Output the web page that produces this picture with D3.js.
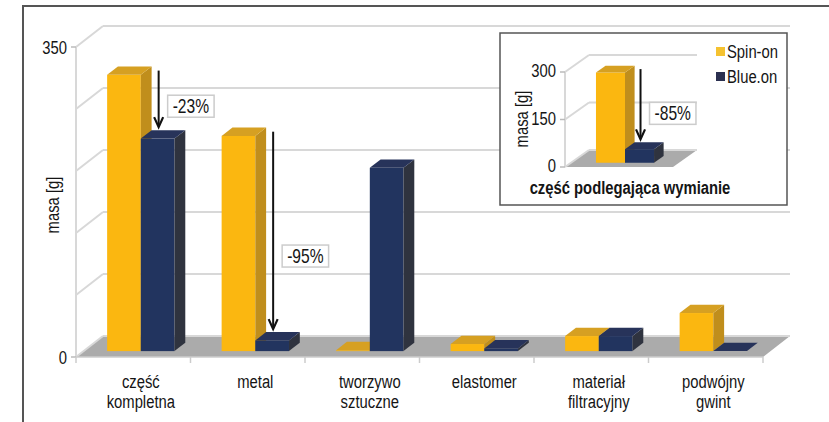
<!DOCTYPE html>
<html>
<head>
<meta charset="utf-8">
<script src="https://cdn.jsdelivr.net/npm/d3@7"></script>
<style>
  body { margin: 0; background: #fff; }
  svg text { font-family: "Liberation Sans", Arial, sans-serif; fill: #151515; }
</style>
</head>
<body>
<div class="areaGrafica"></div>
<script>
// dane wykresu
const kategorie = [["część", "kompletna"], ["metal"], ["tworzywo", "sztuczne"], ["elastomer"], ["materiał", "filtracyjny"], ["podwójny", "gwint"]];
const serie = ["Spin-on", "Blue.on"];
const spinOn = [312, 243, 1, 8, 17, 43];
const blueOn = [240, 12, 207, 3, 17, 0];
const etykietyY = [0, 350];
const siatkaY = [0, 70, 140, 210, 280, 350];
const zmiany = [{ i: 0, tekst: "-23%" }, { i: 1, tekst: "-95%" }];

const wstawkaKategoria = "część podlegająca wymianie";
const wstawkaSpinOn = [285];
const wstawkaBlueOn = [43];
const wstawkaEtykietyY = [0, 150, 300];
const wstawkaZmiana = "-85%";

const kolory = {
  "Spin-on": { front: "#fbb710", side: "#c08e1c", top: "#d6a022" },
  "Blue.on": { front: "#22345f", side: "#2f333f", top: "#27335a" }
};

const w = 829, h = 422;
const scisk = 0.78; // waski krój jak w oryginale

const svg = d3.select('.areaGrafica').append('svg')
  .attr('width', w)
  .attr('height', h);

// tekst zwezony w poziomie
function napis(g, x, y, str, size, anchor, extra) {
  const t = g.append('g')
    .attr('transform', `translate(${x},${y}) ${extra || ''} scale(${scisk},1)`)
    .append('text')
    .attr('text-anchor', anchor || 'start')
    .style('font-size', size + 'px')
    .text(str);
  return t;
}

// ramka
svg.append('path')
  .attr('d', 'M23,422 L23,6 L829,6')
  .attr('fill', 'none')
  .attr('stroke', '#555')
  .attr('stroke-width', 2);

function wykres3d(g, o) {
  const x = d3.scaleBand().domain(d3.range(o.n)).range([o.x0, o.x1]);
  const y = d3.scaleLinear().domain([0, o.max]).range([o.y0, o.y1]);
  const inner = d3.scaleBand().domain(serie).range([0, x.bandwidth()]).paddingOuter(o.pad);
  const dx = o.wall[0], dy = o.wall[1];
  const ox = dx * o.f, oy = dy * o.f;
  const bx = dx * o.d, by = dy * o.d;

  // podloga
  g.append('path')
    .attr('d', `M${o.x0},${o.y0} L${o.x0 + dx},${o.y0 + dy} L${o.x1 + dx},${o.y0 + dy} L${o.x1},${o.y0} Z`)
    .attr('fill', '#ababab');

  // siatka
  o.siatka.forEach(v => {
    g.append('line')
      .attr('x1', o.x0 + dx).attr('x2', o.x1 + dx)
      .attr('y1', y(v) + dy).attr('y2', y(v) + dy)
      .attr('stroke', '#d8d8d8').attr('stroke-width', 2);
    g.append('line')
      .attr('x1', o.x0).attr('x2', o.x0 + dx)
      .attr('y1', y(v)).attr('y2', y(v) + dy)
      .attr('stroke', '#d8d8d8').attr('stroke-width', 2);
  });
  g.append('line')
    .attr('x1', o.x0).attr('x2', o.x0)
    .attr('y1', y(0)).attr('y2', y(o.max))
    .attr('stroke', '#d8d8d8').attr('stroke-width', 2);

  // os Y
  o.etykiety.forEach(v => {
    g.append('line')
      .attr('x1', o.x0 - 5).attr('x2', o.x0)
      .attr('y1', y(v)).attr('y2', y(v))
      .attr('stroke', '#bbb').attr('stroke-width', 1.5);
    napis(g, o.x0 - 9, y(v) + o.lift, v, 19, 'end');
  });

  // slupki
  d3.range(o.n).forEach(i => {
    serie.forEach((s, k) => {
      const v = o.dane[k][i];
      const x1 = x(i) + inner(s) + ox;
      const bw = inner.bandwidth();
      const top = y(v) + oy, base = y(0) + oy;
      const c = kolory[s];
      if (v > 0) {
        g.append('rect')
          .attr('x', x1).attr('y', top)
          .attr('width', bw).attr('height', base - top)
          .attr('fill', c.front);
        g.append('path')
          .attr('d', `M${x1 + bw},${top} L${x1 + bw + bx},${top + by} L${x1 + bw + bx},${base + by} L${x1 + bw},${base} Z`)
          .attr('fill', c.side);
      }
      g.append('path')
        .attr('d', `M${x1},${top} L${x1 + bx},${top + by} L${x1 + bw + bx},${top + by} L${x1 + bw},${top} Z`)
        .attr('fill', c.top);
    });
  });

  return { x, y, inner, ox, oy, bx, by };
}

function strzalka(g, ax, ya, yb, tekst, t) {
  g.append('line')
    .attr('x1', ax).attr('x2', ax)
    .attr('y1', ya).attr('y2', yb - 1)
    .attr('stroke', '#111').attr('stroke-width', 2);
  g.append('path')
    .attr('d', `M${ax - 4.5},${yb - 10} L${ax},${yb} L${ax + 4.5},${yb - 10}`)
    .attr('fill', 'none').attr('stroke', '#111').attr('stroke-width', 2.2);
  const yc = ya + (yb - ya) * t;
  const et = g.append('g');
  const box = et.append('rect');
  const txt = napis(et, ax + 14, yc + 7, tekst, 20, 'start');
  const bw = txt.node().getBBox().width * scisk;
  box.attr('x', ax + 9).attr('y', yc - 11)
    .attr('width', bw + 10).attr('height', 22)
    .attr('fill', '#fff').attr('stroke', '#ccc').attr('stroke-width', 1.5);
}

// glowny wykres
const gMain = svg.append('g');
const m = wykres3d(gMain, {
  n: kategorie.length, x0: 76, x1: 763, y0: 357, y1: 47, max: 350,
  wall: [27, -21], f: 0.28, d: 0.4, pad: 0.7, lift: 7,
  siatka: siatkaY, etykiety: etykietyY, dane: [spinOn, blueOn]
});

// os X
d3.range(kategorie.length + 1).forEach(i => {
  const xx = i < kategorie.length ? m.x(i) : m.x(i - 1) + m.x.bandwidth();
  gMain.append('line')
    .attr('x1', xx).attr('x2', xx)
    .attr('y1', 357).attr('y2', 363)
    .attr('stroke', '#ccc').attr('stroke-width', 1.5);
});
gMain.append('line')
  .attr('x1', 76).attr('x2', 763)
  .attr('y1', 357).attr('y2', 357)
  .attr('stroke', '#ccc').attr('stroke-width', 1.5);

kategorie.forEach((lines, i) => {
  lines.forEach((l, j) => {
    napis(gMain, m.x(i) + m.x.bandwidth() / 2 + m.ox, 388 + j * 20, l, 19, 'middle');
  });
});

napis(gMain, 59, 205, 'masa [g]', 19, 'middle', 'rotate(-90)');

zmiany.forEach(z => {
  const ax = m.x(z.i) + m.inner("Blue.on") + m.ox + m.inner.bandwidth() / 2 + 1;
  const ya = m.y(spinOn[z.i]) + m.oy + m.by * 0.5;
  const yb = m.y(blueOn[z.i]) + m.oy + m.by - 3;
  strzalka(gMain, ax, ya, yb, z.tekst, 0.63);
});

// wstawka
const gIn = svg.append('g');
gIn.append('rect')
  .attr('x', 500).attr('y', 33)
  .attr('width', 287).attr('height', 172)
  .attr('fill', '#fff')
  .attr('stroke', '#555').attr('stroke-width', 1.5);

const m2 = wykres3d(gIn, {
  n: 1, x0: 565, x1: 673, y0: 167, y1: 72, max: 300,
  wall: [24, -17], f: 0.25, d: 0.4, pad: 0.86, lift: 5,
  siatka: wstawkaEtykietyY, etykiety: wstawkaEtykietyY, dane: [wstawkaSpinOn, wstawkaBlueOn]
});

napis(gIn, 528, 119, 'masa [g]', 19, 'middle', 'rotate(-90)');

napis(gIn, 630, 194, wstawkaKategoria, 19, 'middle').style('font-weight', 'bold');

{
  const ax = m2.x(0) + m2.inner("Blue.on") + m2.ox + m2.inner.bandwidth() / 2 + 1;
  const ya = m2.y(wstawkaSpinOn[0]) + m2.oy + m2.by * 0.5;
  const yb = m2.y(wstawkaBlueOn[0]) + m2.oy + m2.by - 3;
  strzalka(gIn, ax, ya, yb, wstawkaZmiana, 0.63);
}

// legenda
const leg = gIn.selectAll('.leg').data(serie).enter().append('g')
  .attr('transform', (d, i) => `translate(716,${47 + i * 25})`);
leg.append('rect')
  .attr('width', 9).attr('height', 9)
  .attr('fill', d => d === "Spin-on" ? "#f5c230" : "#2b3050");
leg.each(function (d) {
  napis(d3.select(this), 11, 11, d, 19, 'start');
});
</script>
</body>
</html>
